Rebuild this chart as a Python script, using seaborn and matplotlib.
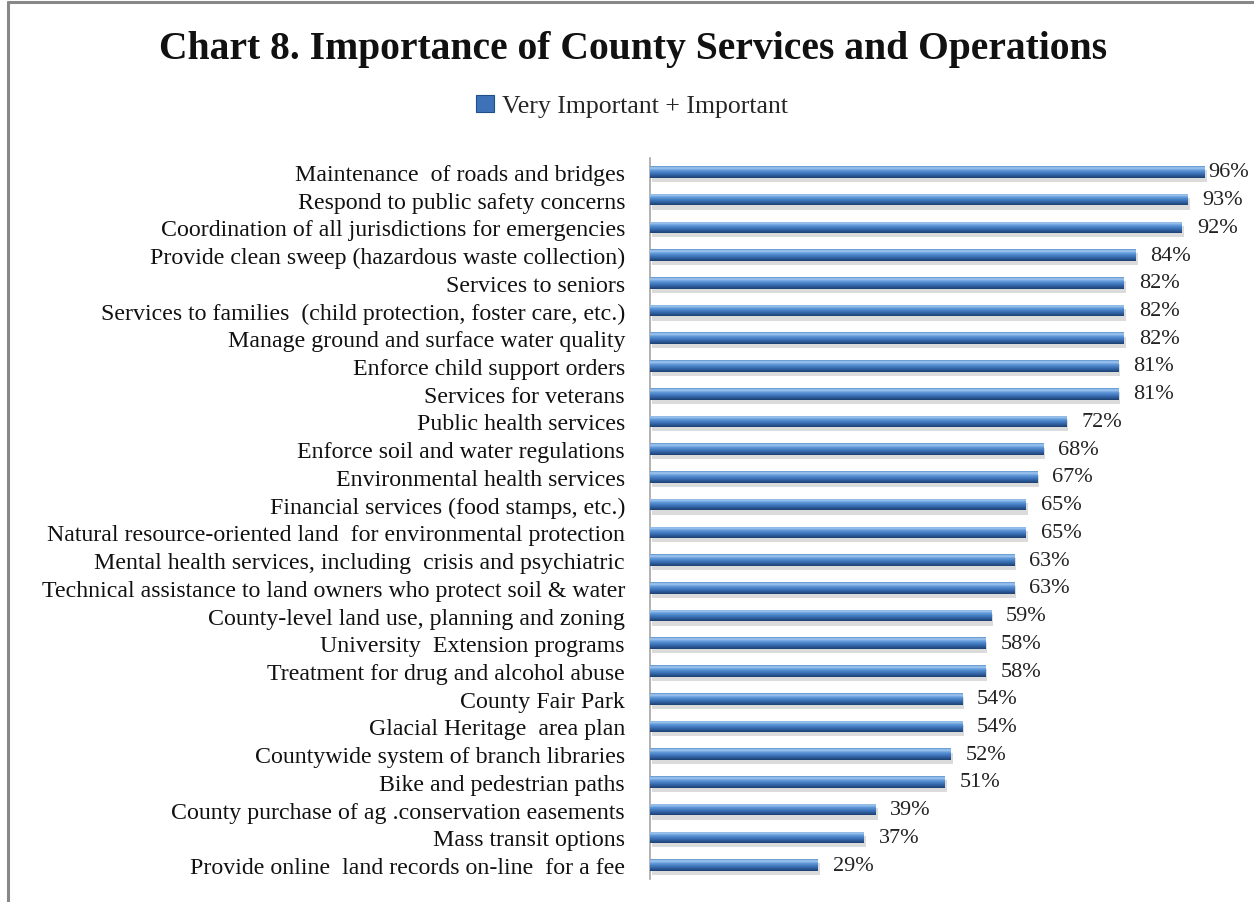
import numpy as np
import pandas as pd
import matplotlib
matplotlib.use("Agg")
import matplotlib.pyplot as plt
import matplotlib.patheffects as pe
from matplotlib.colors import LinearSegmentedColormap
from matplotlib.lines import Line2D
from matplotlib.patches import Patch
import seaborn as sns

services = [
    "Maintenance  of roads and bridges",
    "Respond to public safety concerns",
    "Coordination of all jurisdictions for emergencies",
    "Provide clean sweep (hazardous waste collection)",
    "Services to seniors",
    "Services to families  (child protection, foster care, etc.)",
    "Manage ground and surface water quality",
    "Enforce child support orders",
    "Services for veterans",
    "Public health services",
    "Enforce soil and water regulations",
    "Environmental health services",
    "Financial services (food stamps, etc.)",
    "Natural resource-oriented land  for environmental protection",
    "Mental health services, including  crisis and psychiatric",
    "Technical assistance to land owners who protect soil & water",
    "County-level land use, planning and zoning",
    "University  Extension programs",
    "Treatment for drug and alcohol abuse",
    "County Fair Park",
    "Glacial Heritage  area plan",
    "Countywide system of branch libraries",
    "Bike and pedestrian paths",
    "County purchase of ag .conservation easements",
    "Mass transit options",
    "Provide online  land records on-line  for a fee",
]
pct_important = [96, 93, 92, 84, 82, 82, 82, 81, 81, 72, 68, 67, 65, 65,
                 63, 63, 59, 58, 58, 54, 54, 52, 51, 39, 37, 29]
series_name = "Very Important + Important"

df = pd.DataFrame({"service": services, "pct": pct_important})

sns.set_theme(style="white")
plt.rcParams["font.family"] = ["Liberation Serif", "DejaVu Serif"]

W, H = 1254, 903
fig = plt.figure(figsize=(W / 100, H / 100), dpi=100)
ax = fig.add_axes([650 / W, 1 - 880 / H, (1228 - 650) / W, (880 - 159) / H])

sns.barplot(data=df, x="pct", y="service", orient="h", ax=ax,
            color="#3d72b8", width=0.42, saturation=1, linewidth=0)

# cylinder-style shading for each bar
bar_cmap = LinearSegmentedColormap.from_list(
    "cyl", [(0.0, "#5a8fcf"), (0.15, "#a6cbf0"), (0.38, "#5a95d8"),
            (0.7, "#3569ad"), (1.0, "#1d3f70")])
grad = np.linspace(0, 1, 64).reshape(-1, 1)
for p in ax.patches:
    p.set_path_effects([pe.SimplePatchShadow(offset=(1.5, -3), shadow_rgbFace="#8a8a8a", alpha=0.3),
                        pe.Normal()])
    x0, y0 = p.get_x(), p.get_y()
    w, h = p.get_width(), p.get_height()
    im = ax.imshow(grad, cmap=bar_cmap, aspect="auto", interpolation="bilinear",
                   extent=(x0, x0 + w, y0 + h, y0), zorder=3)
    im.set_clip_path(p)

ax.set_xlim(0, 100)
ax.set_ylim(len(services) - 0.5, -0.5)

# value labels
for i, v in enumerate(pct_important):
    pad = 3 if v >= 95 else 15
    ax.annotate(f"{v}%", xy=(v, i), xytext=(pad, 0), textcoords="offset pixels",
                ha="left", va="center", fontsize=16, color="#222222", zorder=5,
                annotation_clip=False)

ax.set_xlabel("")
ax.set_ylabel("")
ax.set_xticks([])
ax.tick_params(axis="y", length=0, pad=18, labelsize=17.2, labelcolor="#111111")
for s in ["top", "right", "bottom"]:
    ax.spines[s].set_visible(False)
ax.spines["left"].set_color("#a6a6a6")
ax.spines["left"].set_linewidth(1.2)

fig.text(633 / W, 1 - 50 / H, "Chart 8. Importance of County Services and Operations",
         ha="center", va="center", fontsize=28.5, fontweight="bold", color="#111111")

fig.legend(handles=[Patch(facecolor="#3d72b8", edgecolor="#1f4e8a", linewidth=0.8,
                          label=series_name)],
           loc="center", bbox_to_anchor=(632 / W, 1 - 107 / H), frameon=False,
           fontsize=18.5, handlelength=0.7, handleheight=0.7, handletextpad=0.3)

# frame on top and left edges
fig.add_artist(Line2D([8 / W, 8 / W], [0, 1 - 3 / H], color="#888888", linewidth=2.2))
fig.add_artist(Line2D([8 / W, 1], [1 - 3 / H, 1 - 3 / H], color="#888888", linewidth=2.2))

fig.savefig("out.png", dpi=100, facecolor="white")
